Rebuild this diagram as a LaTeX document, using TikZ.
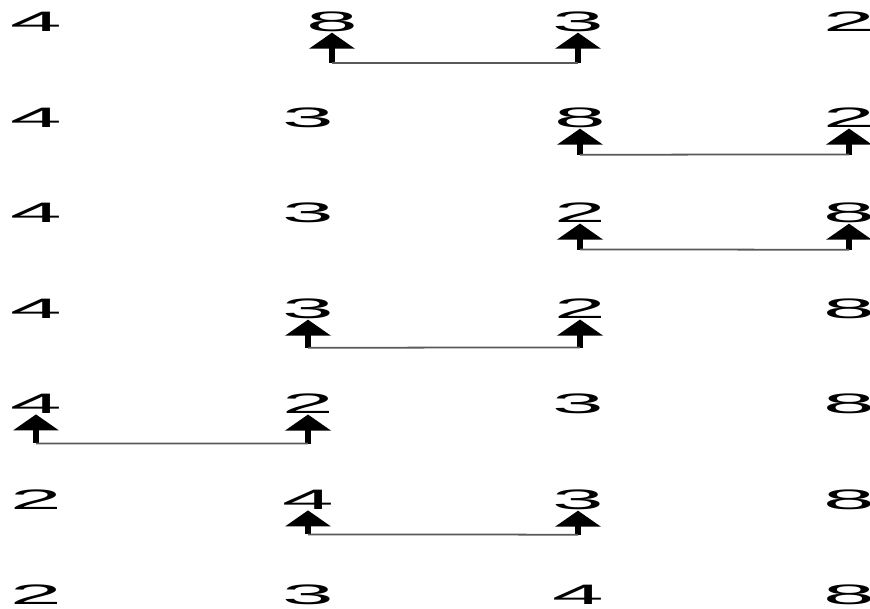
\documentclass[tikz,border=0pt]{standalone}
\usepackage{fontspec}
\setmainfont{Liberation Sans}
\usetikzlibrary{arrows.meta}
\newcommand{\stretchnum}[1]{\scalebox{3.3}[1]{#1}}

\begin{document}
\begin{tikzpicture}[x=0.01cm,y=-0.01cm,
		num/.style={inner sep=0pt, font=\fontsize{8}{9}\selectfont},
		swap/.style={-{Triangle[width=4.5mm,length=1.6mm]}, line width=1.8pt},
		link/.style={line width=0.5pt, black!65}]
		\useasboundingbox (0,0) rectangle (870,608);

		% row 1
		\node[num] (r1c1) at (36,22) {\stretchnum{4}};
		\node[num] (r1c2) at (332,22) {\stretchnum{8}};
		\node[num] (r1c3) at (578,22) {\stretchnum{3}};
		\node[num] (r1c4) at (849,22) {\stretchnum{2}};
		% row 2
		\node[num] (r2c1) at (36,118) {\stretchnum{4}};
		\node[num] (r2c2) at (308,118) {\stretchnum{3}};
		\node[num] (r2c3) at (580,118) {\stretchnum{8}};
		\node[num] (r2c4) at (849,118) {\stretchnum{2}};
		% row 3
		\node[num] (r3c1) at (36,213) {\stretchnum{4}};
		\node[num] (r3c2) at (308,213) {\stretchnum{3}};
		\node[num] (r3c3) at (580,213) {\stretchnum{2}};
		\node[num] (r3c4) at (849,213) {\stretchnum{8}};
		% row 4
		\node[num] (r4c1) at (36,309) {\stretchnum{4}};
		\node[num] (r4c2) at (308,309) {\stretchnum{3}};
		\node[num] (r4c3) at (580,309) {\stretchnum{2}};
		\node[num] (r4c4) at (849,309) {\stretchnum{8}};
		% row 5
		\node[num] (r5c1) at (36,404) {\stretchnum{4}};
		\node[num] (r5c2) at (308,404) {\stretchnum{2}};
		\node[num] (r5c3) at (578,404) {\stretchnum{3}};
		\node[num] (r5c4) at (849,404) {\stretchnum{8}};
		% row 6
		\node[num] (r6c1) at (36,500) {\stretchnum{2}};
		\node[num] (r6c2) at (308,500) {\stretchnum{4}};
		\node[num] (r6c3) at (578,500) {\stretchnum{3}};
		\node[num] (r6c4) at (849,500) {\stretchnum{8}};
		% row 7
		\node[num] (r7c1) at (36,595) {\stretchnum{2}};
		\node[num] (r7c2) at (308,595) {\stretchnum{3}};
		\node[num] (r7c3) at (578,595) {\stretchnum{4}};
		\node[num] (r7c4) at (849,595) {\stretchnum{8}};

		% swaps
		\draw[swap] (r1c2.south) ++(0,30) coordinate (s1a) -- (r1c2.south);
		\draw[swap] (r1c3.south) ++(0,30) coordinate (s1b) -- (r1c3.south);
		\draw[link] (s1a) -- (s1b);

		\draw[swap] (r2c3.south) ++(0,26) coordinate (s2a) -- (r2c3.south);
		\draw[swap] (r2c4.south) ++(0,26) coordinate (s2b) -- (r2c4.south);
		\draw[link] (s2a) -- (s2b);

		\draw[swap] (r3c3.south) ++(0,26) coordinate (s3a) -- (r3c3.south);
		\draw[swap] (r3c4.south) ++(0,26) coordinate (s3b) -- (r3c4.south);
		\draw[link] (s3a) -- (s3b);

		\draw[swap] (r4c2.south) ++(0,28) coordinate (s4a) -- (r4c2.south);
		\draw[swap] (r4c3.south) ++(0,28) coordinate (s4b) -- (r4c3.south);
		\draw[link] (s4a) -- (s4b);

		\draw[swap] (r5c1.south) ++(0,29) coordinate (s5a) -- (r5c1.south);
		\draw[swap] (r5c2.south) ++(0,29) coordinate (s5b) -- (r5c2.south);
		\draw[link] (s5a) -- (s5b);

		\draw[swap] (r6c2.south) ++(0,24) coordinate (s6a) -- (r6c2.south);
		\draw[swap] (r6c3.south) ++(0,24) coordinate (s6b) -- (r6c3.south);
		\draw[link] (s6a) -- (s6b);

	\end{tikzpicture}
\end{document}
